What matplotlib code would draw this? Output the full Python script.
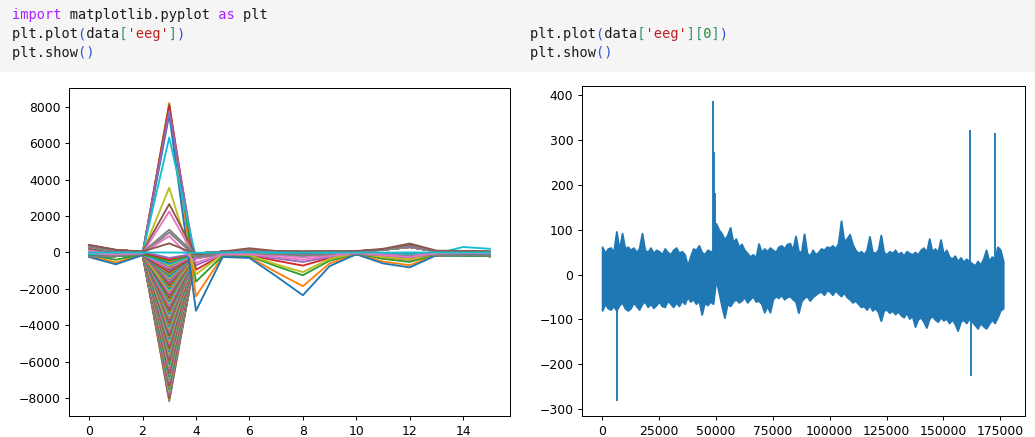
import numpy as np
import matplotlib.pyplot as plt
from matplotlib.patches import Rectangle

# --- left panel: plt.plot(data['eeg']) -> one line per sample, 16 channels each ---
channels = list(range(16))

# depth of the big negative fan at channel 3 (dense block of lines)
fan_depths = [-8150, -8080, -8010, -7940, -7870, -7800, -7730, -7660, -7600, -7530,
              -7460, -7390, -7320, -7250, -7180, -7110, -7050, -6980, -6900, -6840,
              -6770, -6700, -6630, -6560, -6500, -6430, -6360, -6290, -6220, -6150,
              -6080, -6010, -5950, -5880, -5800, -5740, -5670, -5600, -5530, -5460,
              -5400, -5330, -5260, -5190, -5120, -5050, -4980, -4910, -4850, -4780,
              -4700, -4640, -4570, -4500, -4430, -4360, -4300, -4230, -4160, -4090,
              -4020, -3950, -3880, -3810, -3750, -3680, -3600, -3540, -3470, -3400,
              -3330, -3260, -3200, -3130, -3060, -2990, -2920, -2850, -2780, -2710,
              -2650, -2580, -2500, -2440, -2370, -2300, -2230, -2160, -2100, -2030,
              -1960, -1890, -1820, -1750, -1680, -1610, -1550, -1480, -1400, -1340,
              -1270, -1200, -1130, -1060, -1000, -930, -860, -790, -720, -650,
              -580, -510, -450, -380, -300]

# baseline shapes of the fan lines (channel 3 replaced by the depth)
fan_bases = [
    [380, 120, 40, 0, -60, 40, 120, 60, 30, 50, 60, 150, 300, 60, 40, 30],
    [-220, -200, -120, 0, -100, -150, -80, -120, -180, -150, -120, -180, -250, -150, -180, -200],
    [80, -40, -20, 0, -30, -60, 0, -30, -60, -40, -20, -60, -80, -40, -60, -60],
]

# the few "loud" lines that stick out of the band
loud_lines = [
    [-200, -550, -120, 8200, -2400, -200, -250, -1080, -1850, -600, -80, -500, -700, -120, -60, -80],
    [-150, -400, -100, 8100, -1600, -180, -200, -750, -1250, -450, -60, -350, -520, -100, -50, -60],
    [-100, -150, -60, 8050, -950, -120, -150, -450, -720, -300, -40, -250, -400, -60, -30, -50],
    [-250, -650, -150, 7550, -3200, -250, -300, -1300, -2350, -750, -100, -600, -820, -150, -80, -100],
    [-80, -120, -50, 7750, -700, -100, -120, -330, -520, -250, -30, -200, -300, -50, -20, -40],
    [-100, -120, -60, 6300, -300, -100, -60, -80, -120, -80, -50, -80, -100, -60, 300, 200],
    [50, -80, -30, 3550, -1200, -100, -150, -650, -1080, -350, -50, -250, -380, -80, -40, -50],
    [200, -50, 30, 2650, -150, -80, 50, 20, 0, 20, 30, 150, 420, 50, 30, 30],
    [0, -150, -50, 2250, -350, -80, -60, -150, -280, -120, -20, -100, -200, -30, -10, -20],
    [300, 50, 0, 1250, -150, -50, 80, 30, 20, 30, 50, 120, 350, 60, 40, 20],
    [-250, -200, -100, 1100, -250, -150, -100, -100, -150, -120, -100, -150, -200, -150, -150, -180],
    [100, -100, -50, 900, -560, -100, -100, -250, -400, -200, -20, -150, -250, -40, -20, -30],
    [420, 150, 50, 500, -100, 50, 230, 80, 50, 60, 80, 200, 490, 100, 80, 50],
    [0, -10, 0, 0, -20, 0, 10, 0, -10, 0, 0, -10, 0, 0, 0, 0],
]
loud_colors = ["C1", "C2", "C3", "C0", "C4", "C9", "C8", "C5", "C6", "C7", "C7", "C6", "C5", "C9"]

# --- right panel: plt.plot(data['eeg'][0]) -> per-column max / min of the trace ---
eeg_idx = list(range(0, 177000, 1250))
eeg_hi = [62, 48, 58, 60, 50, 96, 55, 92, 58, 62,
          55, 60, 50, 58, 92, 55, 50, 60, 48, 55,
          52, 45, 58, 50, 45, 55, 60, 48, 52, 45,
          20, 40, 58, 55, 65, 50, 45, 55, 52, 50,
          114, 100, 92, 78, 88, 105, 72, 80, 62, 68,
          55, 48, 40, 45, 38, 69, 50, 58, 52, 60,
          55, 50, 62, 65, 58, 68, 70, 55, 86, 52,
          50, 91, 48, 42, 55, 45, 50, 58, 55, 62,
          60, 65, 58, 70, 120, 75, 80, 90, 68, 55,
          48, 52, 45, 55, 85, 50, 48, 55, 88, 50,
          45, 52, 48, 55, 45, 50, 42, 52, 48, 45,
          50, 45, 55, 60, 50, 80, 52, 58, 50, 78,
          45, 55, 40, 35, 42, 30, 38, 28, 35, 30,
          25, 20, 30, 22, 35, 55, 30, 40, 35, 62,
          55, 30]
eeg_lo = [-80, -65, -75, -78, -70, -80, -68, -62, -75, -80,
          -75, -62, -70, -78, -65, -60, -72, -65, -74, -68,
          -60, -70, -72, -58, -65, -72, -62, -70, -58, -65,
          -50, -60, -55, -65, -58, -89, -62, -68, -60, -65,
          -10, -40, -70, -96, -65, -70, -60, -55, -62, -58,
          -50, -62, -55, -48, -60, -58, -65, -84, -70, -84,
          -55, -48, -52, -45, -55, -50, -48, -55, -60, -85,
          -60, -52, -48, -58, -50, -45, -40, -38, -45, -35,
          -38, -45, -35, -42, -48, -40, -50, -55, -62, -58,
          -65, -72, -70, -78, -68, -80, -75, -83, -103, -80,
          -78, -85, -80, -88, -82, -90, -95, -85, -98, -92,
          -116, -100, -95, -105, -118, -98, -92, -100, -105, -95,
          -102, -98, -108, -100, -110, -125, -105, -100, -108, -98,
          -105, -112, -120, -108, -115, -120, -110, -100, -108, -95,
          -80, -75]

# narrow artefacts (one or two samples wide)
spike_x = [6450, 48550, 48980, 49560, 161750, 162100, 172450]
spike_val = [-282, 387, 273, 181, 322, -227, 315]

# notebook code cells above the two outputs
code_left = [
    [("import", "#aa22ff"), (" matplotlib.pyplot ", "#1a1a1a"), ("as", "#aa22ff"), (" plt", "#1a1a1a")],
    [("plt.plot", "#1a1a1a"), ("(", "#2f4fd0"), ("data", "#1a1a1a"), ("[", "#3a9476"),
     ("'eeg'", "#ba2121"), ("]", "#3a9476"), (")", "#2f4fd0")],
    [("plt.show", "#1a1a1a"), ("()", "#2f4fd0")],
]
code_right = [
    [("plt.plot", "#1a1a1a"), ("(", "#2f4fd0"), ("data", "#1a1a1a"), ("[", "#3a9476"),
     ("'eeg'", "#ba2121"), ("][", "#3a9476"), ("0", "#1f8a3a"), ("]", "#3a9476"), (")", "#2f4fd0")],
    [("plt.show", "#1a1a1a"), ("()", "#2f4fd0")],
]

DPI = 89
W, H = 1035, 437


def draw_code(fig, lines, x_px, y_px_list):
    """Monospace trick: one text layer per colour, other characters blanked out."""
    for tokens, y_px in zip(lines, y_px_list):
        colours = []
        for _, c in tokens:
            if c not in colours:
                colours.append(c)
        for c in colours:
            layer = "".join(t if tc == c else " " * len(t) for t, tc in tokens)
            fig.text(x_px / W, 1 - y_px / H, layer, color=c, fontsize=11,
                     family="DejaVu Sans Mono", va="center", ha="left")


fig = plt.figure(figsize=(W / DPI, H / DPI), dpi=DPI)
fig.patches.append(Rectangle((0, 1 - 72 / H), 1, 72 / H, transform=fig.transFigure,
                             facecolor="#f5f5f5", edgecolor="none", zorder=0))
draw_code(fig, code_left, 12, [15, 34, 53])
draw_code(fig, code_right, 530, [34, 53])

# left plot
ax1 = fig.add_axes([69 / W, 1 - 416 / H, 441 / W, 328 / H])
fan_rows = []
for i, d in enumerate(fan_depths):
    base = fan_bases[i % len(fan_bases)]
    fan_rows.append(base[:3] + [d] + base[4:])
ax1.plot(channels, np.array(fan_rows).T)
for row, c in zip(loud_lines, loud_colors):
    ax1.plot(channels, row, color=c)

# right plot
ax2 = fig.add_axes([582 / W, 1 - 416 / H, 443 / W, 330 / H])
ax2.fill_between(eeg_idx, eeg_lo, eeg_hi, color="C0", linewidth=1.5)
ax2.vlines(spike_x, 0, spike_val, color="C0", linewidth=1.5)
ax2.set_xlim(-8850, 185850)

fig.savefig("out.png", dpi=DPI)
